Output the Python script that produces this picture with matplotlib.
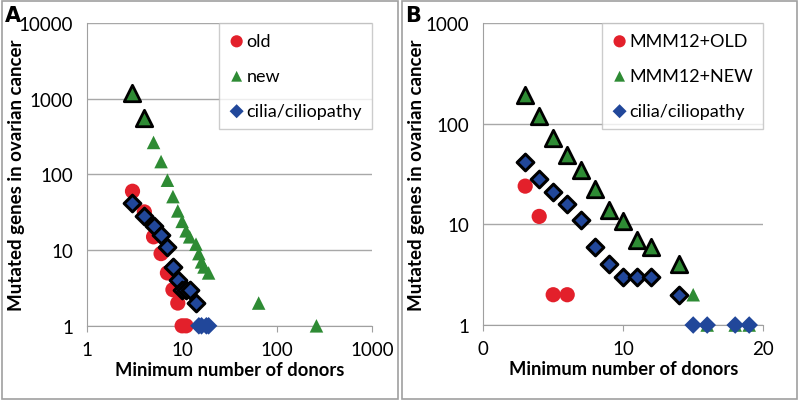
import matplotlib.pyplot as plt
from matplotlib.patches import Rectangle
from matplotlib.ticker import FixedLocator, NullLocator

plt.rcParams['font.family'] = ['Lato', 'DejaVu Sans']

RED = '#e3202b'
GREEN = '#2e8b34'
BLUE = '#21479a'

# panel A (log-log)
a_old_x = [3, 4, 5, 6, 7, 8, 9, 10, 11]
a_old_y = [60, 32, 15, 9, 5, 3, 2, 1, 1]
a_new_x = [3, 4, 5, 6, 7, 8, 9, 10, 11, 12, 14, 15, 16, 17, 19, 64, 260]
a_new_y = [1180, 555, 265, 148, 84, 51, 33, 24, 18, 15, 12, 9, 7, 6, 5, 2, 1]
a_new_marked = 2          # first points drawn with a black outline

# cilia/ciliopathy (same in both panels)
cil_x = [3, 4, 5, 6, 7, 8, 9, 10, 11, 12, 14, 15, 16, 18, 19]
cil_y = [42, 28, 21, 16, 11, 6, 4, 3, 3, 3, 2, 1, 1, 1, 1]
cil_marked = 11

# panel B (linear x, log y)
b_old_x = [3, 4, 5, 6]
b_old_y = [24, 12, 2, 2]
b_new_x = [3, 4, 5, 6, 7, 8, 9, 10, 11, 12, 14, 15, 16, 18, 19]
b_new_y = [195, 120, 72, 49, 35, 22.5, 14, 10.7, 7, 6, 4, 2, 1, 1, 1]
b_new_marked = 11

fig = plt.figure(figsize=(8, 4.02), dpi=100)

# panel frames
for x0 in (0.003, 0.5025):
    fig.patches.append(Rectangle((x0, 0.005), 0.494, 0.99, transform=fig.transFigure,
                                 fill=False, edgecolor='#a0a0a0', lw=1.2))


def draw(ax, ox, oy, nx, ny, nmark, labels):
    kw = dict(zorder=3, clip_on=False)
    ax.scatter(ox, oy, s=120, marker='o', color=RED, edgecolor='none', label=labels[0], **kw)
    ax.scatter(nx, ny, s=95, marker='^', color=GREEN, edgecolor='none', label=labels[1], **kw)
    ax.scatter(nx[:nmark], ny[:nmark], s=140, marker='^', color=GREEN, edgecolor='black',
               linewidth=2, **kw)
    ax.scatter(cil_x, cil_y, s=80, marker='D', color=BLUE, edgecolor='none', label=labels[2], **kw)
    ax.scatter(cil_x[:cil_marked], cil_y[:cil_marked], s=72, marker='D', color=BLUE,
               edgecolor='black', linewidth=2.2, **kw)
    ax.set_yscale('log')
    ax.yaxis.grid(True, color='#a8a8a8', lw=1)
    ax.set_axisbelow(True)
    for s in ('top', 'right'):
        ax.spines[s].set_visible(False)
    for s in ('left', 'bottom'):
        ax.spines[s].set_color('#a0a0a0')
    ax.tick_params(axis='both', labelsize=13.5, colors='#a0a0a0', labelcolor='black', length=4)
    ax.tick_params(axis='x', pad=7)
    ax.tick_params(axis='y', length=0, pad=10)
    ax.yaxis.set_minor_locator(NullLocator())
    ax.xaxis.set_minor_locator(NullLocator())
    ax.set_xlabel('Minimum number of donors', fontsize=13.2, fontweight='bold', labelpad=2)
    ax.set_ylabel('Mutated genes in ovarian cancer', fontsize=13.5, fontweight='bold',
                  family=['Liberation Sans Narrow', 'Lato'])
    leg = ax.legend(loc='upper right', borderaxespad=0, fontsize=13, labelspacing=1.05,
                    handletextpad=0.1, handlelength=0.9, borderpad=0.55, fancybox=False,
                    scatterpoints=1, markerscale=0.8)
    leg.get_frame().set_edgecolor('#c0c0c0')
    leg.get_frame().set_linewidth(1)


axA = fig.add_axes([0.109, 0.187, 0.356, 0.753])
draw(axA, a_old_x, a_old_y, a_new_x, a_new_y, a_new_marked, ['old', 'new', 'cilia/ciliopathy'])
axA.set_xscale('log')
axA.set_xlim(1, 1000)
axA.set_ylim(1, 10000)
axA.xaxis.set_major_locator(FixedLocator([1, 10, 100, 1000]))
axA.xaxis.set_minor_locator(NullLocator())
axA.set_xticklabels(['1', '10', '100', '1000'])
axA.yaxis.set_major_locator(FixedLocator([1, 10, 100, 1000, 10000]))
axA.set_yticklabels(['1', '10', '100', '1000', '10000'])
axA.yaxis.set_label_coords(-0.218, 0.5)

axB = fig.add_axes([0.604, 0.189, 0.35, 0.751])
draw(axB, b_old_x, b_old_y, b_new_x, b_new_y, b_new_marked, ['MMM12+OLD', 'MMM12+NEW', 'cilia/ciliopathy'])
axB.set_xlim(0, 20)
axB.set_ylim(1, 1000)
axB.xaxis.set_major_locator(FixedLocator([0, 10, 20]))
axB.set_xticklabels(['0', '10', '20'])
axB.yaxis.set_major_locator(FixedLocator([1, 10, 100, 1000]))
axB.set_yticklabels(['1', '10', '100', '1000'])
axB.yaxis.set_label_coords(-0.207, 0.5)

fig.text(0.006, 0.985, 'A', fontsize=15, fontweight='bold', va='top', family='DejaVu Sans')
fig.text(0.506, 0.985, 'B', fontsize=15, fontweight='bold', va='top', family='DejaVu Sans')

fig.savefig('out.png', dpi=100)
